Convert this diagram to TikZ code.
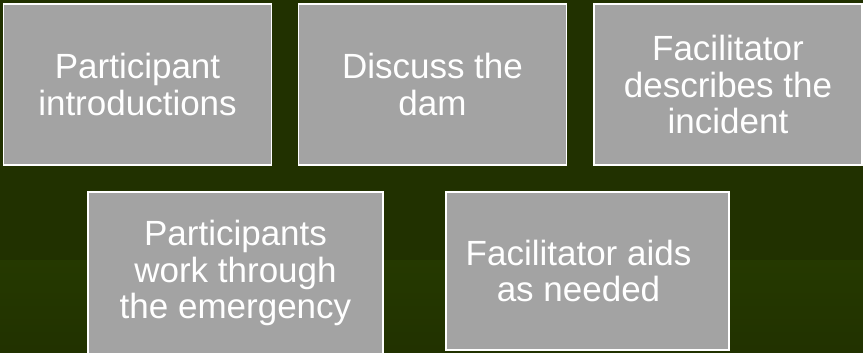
\documentclass[tikz,border=0pt]{standalone}
\usepackage{fontspec}
\setmainfont{Liberation Sans}
\usetikzlibrary{positioning}

\definecolor{bgtop}{HTML}{213100}
\definecolor{bgfloor}{HTML}{253900}
\definecolor{boxgray}{HTML}{A3A3A3}

\begin{document}
\begin{tikzpicture}[x=1pt, y=-1pt,
                    stepbox/.style={rectangle, draw=white, line width=1.5pt, fill=boxgray, text=white, align=center, inner sep=0pt, font=\fontsize{35}{36.5}\selectfont},
                    wide/.style={minimum width=268pt, minimum height=161pt}]

    % Background
    \fill[bgtop] (0,0) rectangle (863,260);
    \shade[top color=bgfloor, bottom color=bgtop!90!bgfloor] (0,260) rectangle (863,353);
    \useasboundingbox (0,0) rectangle (863,353);

    % Nodes
    \node[stepbox, wide] (intro) at (137.5,84.5) {Participant\\introductions};
    \node[stepbox, wide] (dam) at (432.5,84.5) {Discuss the\\dam};
    \node[stepbox, wide] (incident) at (728,84.5) {Facilitator\\describes the\\incident};

    \node[stepbox, minimum width=295pt, minimum height=162pt] (work) at (235.5,273) {Participants\\work through\\the emergency};
    \node[stepbox, minimum width=283pt, minimum height=158pt] (aids) at (587.5,271) {Facilitator aids\hspace*{18pt}\\as needed\hspace*{18pt}};

\end{tikzpicture}
\end{document}
